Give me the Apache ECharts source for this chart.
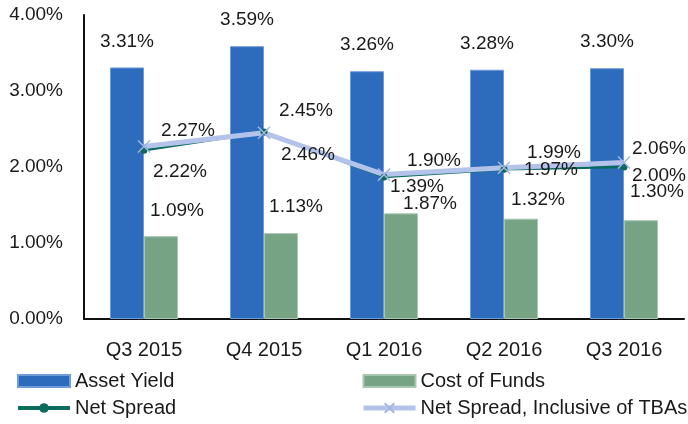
<!DOCTYPE html>
<html lang="en">
<head>
  <meta charset="UTF-8">
  <title>Spread chart</title>
  <style>
    html, body { margin: 0; padding: 0; background: #fff; }
    #chart { width: 688px; height: 424px; }
  </style>
</head>
<body>
  <div id="chart"></div>
  <script src="https://cdn.jsdelivr.net/npm/echarts@6/dist/echarts.min.js"></script>
  <script>
    const quarters = ['Q3 2015', 'Q4 2015', 'Q1 2016', 'Q2 2016', 'Q3 2016']
    const assetYield = [3.31, 3.59, 3.26, 3.28, 3.30]
    const costOfFunds = [1.09, 1.13, 1.39, 1.32, 1.30]
    const netSpread = [2.22, 2.46, 1.87, 1.97, 2.00]
    const netSpreadTba = [2.27, 2.45, 1.90, 1.99, 2.06]
    // label texts as printed on the original (two of them are swapped there)
    const costLabels = ['1.09%', '1.13%', '1.87%', '1.32%', '1.30%']
    const netLabels = ['2.22%', '2.46%', '1.39%', '1.97%', '2.00%']
    const yTicks = [0, 1, 2, 3, 4]

    // hand placed label nudges (layout only)
    const costOffsets = [[16, -15], [15, -16], [29, 0], [17, -9], [16, -18]]
    const netOffsets = [[36, 21], [44, 23], [33, 10], [47, 0], [35, 9]]
    const tbaOffsets = [[44, -16], [42, -22], [50, -14], [50, -15], [35, -14]]

    const FONT = '"Liberation Sans", Arial, sans-serif'
    const TXT = '#1a1a1a'
    const SIZE = 19
    const chart = echarts.init(document.getElementById('chart'))

    const labelBase = { show: true, fontFamily: FONT, fontSize: SIZE, color: TXT, lineHeight: 20 }
    const legendText = { fontFamily: FONT, fontSize: 20, color: TXT, lineHeight: 20 }

    chart.setOption({
      animation: false,
      textStyle: { fontFamily: FONT },
      grid: { left: 84, right: 4, top: 15, bottom: 105 },
      legend: [
        {
          orient: 'vertical', left: 16, top: 371, itemWidth: 52, itemHeight: 12, itemGap: 7,
          padding: 0, textStyle: legendText,
          data: [
            { name: 'Asset Yield', icon: 'rect' },
            { name: 'Net Spread', lineStyle: { width: 4 } }
          ]
        },
        {
          orient: 'vertical', left: 361, top: 371, itemWidth: 52, itemHeight: 12, itemGap: 7,
          padding: 0, textStyle: legendText,
          data: [
            { name: 'Cost of Funds', icon: 'rect' },
            { name: 'Net Spread, Inclusive of TBAs', lineStyle: { width: 5 } }
          ]
        }
      ],
      xAxis: {
        type: 'category',
        data: quarters,
        axisLine: { lineStyle: { color: '#111', width: 2 } },
        axisTick: { show: false },
        axisLabel: { fontFamily: FONT, fontSize: 20, color: TXT, margin: 20, lineHeight: 22 }
      },
      yAxis: {
        type: 'value',
        min: yTicks[0],
        max: yTicks[yTicks.length - 1],
        interval: 1,
        splitLine: { show: false },
        axisLine: { show: true, lineStyle: { color: '#111', width: 2 } },
        axisLabel: {
          fontFamily: FONT, fontSize: SIZE, color: TXT, margin: 21,
          formatter: v => v.toFixed(2) + '%'
        }
      },
      series: [
        {
          name: 'Asset Yield',
          type: 'bar',
          barWidth: 34,
          barGap: '0%',
          itemStyle: { color: '#2d6cbd', borderColor: '#6f9bd8', borderWidth: 1 },
          label: Object.assign({}, labelBase, {
            position: 'top', distance: 16,
            formatter: p => p.value.toFixed(2) + '%'
          }),
          data: assetYield
        },
        {
          name: 'Cost of Funds',
          type: 'bar',
          barWidth: 34,
          barGap: '0%',
          itemStyle: { color: '#76a383', borderColor: '#a9c8b1', borderWidth: 1 },
          label: Object.assign({}, labelBase, { position: 'top', distance: 0 }),
          data: costOfFunds.map((v, i) => ({
            value: v,
            label: { offset: costOffsets[i], formatter: costLabels[i] }
          }))
        },
        {
          name: 'Net Spread',
          type: 'line',
          symbol: 'circle',
          symbolSize: 7,
          lineStyle: { color: '#0b6b5e', width: 2.5 },
          itemStyle: { color: '#0b6b5e' },
          label: Object.assign({}, labelBase, { position: 'inside' }),
          data: netSpread.map((v, i) => ({
            value: v,
            label: { offset: netOffsets[i], formatter: netLabels[i] }
          }))
        },
        {
          name: 'Net Spread, Inclusive of TBAs',
          type: 'line',
          symbol: 'path://M0,0L10,10M10,0L0,10',
          symbolSize: 12,
          lineStyle: { color: '#b4c3ea', width: 5 },
          itemStyle: { color: '#b4c3ea', borderColor: '#a3b5e4', borderWidth: 1.5 },
          label: Object.assign({}, labelBase, { position: 'inside' }),
          data: netSpreadTba.map((v, i) => ({
            value: v,
            label: { offset: tbaOffsets[i], formatter: v.toFixed(2) + '%' }
          }))
        }
      ]
    })
  </script>
</body>
</html>
